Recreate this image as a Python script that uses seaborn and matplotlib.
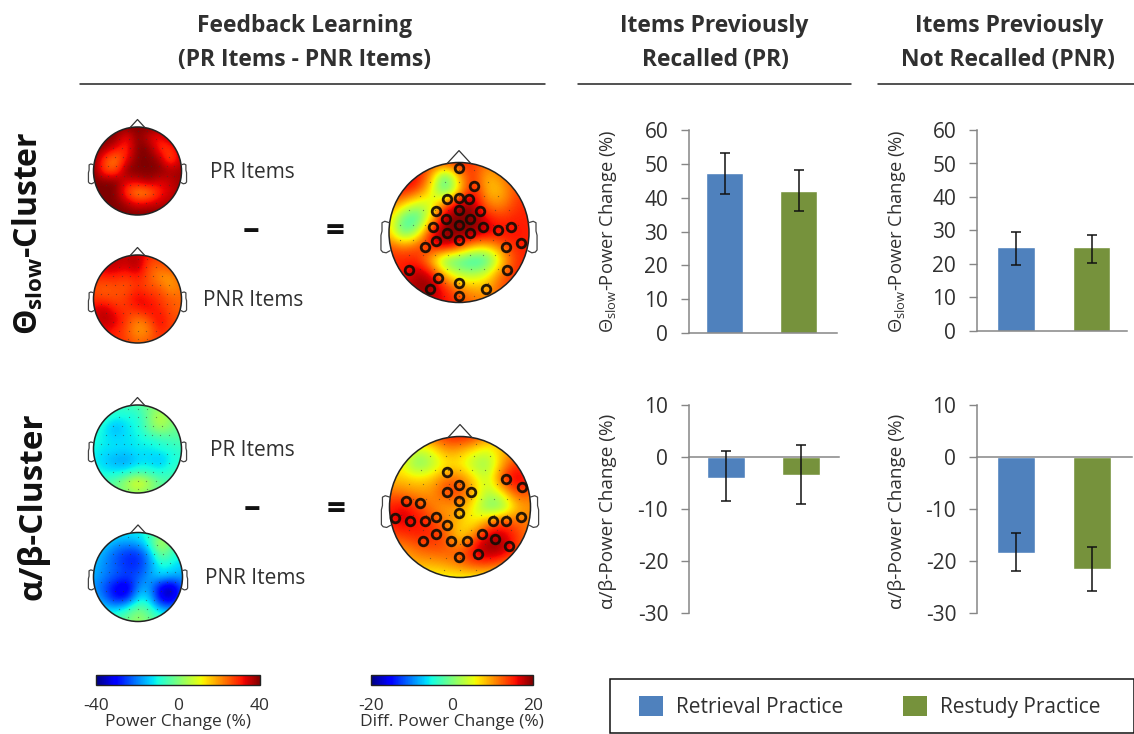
import matplotlib
matplotlib.use("Agg")
import matplotlib.pyplot as plt
import numpy as np
import pandas as pd
import seaborn as sns
from matplotlib.patches import Circle, Patch, Rectangle
from matplotlib.cm import ScalarMappable
from matplotlib.colors import Normalize

# ---------- bar data ----------
conditions = ["Retrieval Practice", "Restudy Practice"]
colors = ["#4F81BD", "#76923C"]
theta_pr = [47.3, 42.0]
theta_pr_low = [41.0, 36.0]
theta_pr_high = [53.2, 48.3]
theta_pnr = [25.0, 25.0]
theta_pnr_low = [19.6, 20.2]
theta_pnr_high = [29.6, 28.7]
alpha_pr = [-4.0, -3.4]
alpha_pr_low = [-8.5, -9.1]
alpha_pr_high = [1.2, 2.4]
alpha_pnr = [-18.4, -21.5]
alpha_pnr_low = [-22.0, -25.7]
alpha_pnr_high = [-14.6, -17.3]

# ---------- topographic map data (rows: front to back, columns: left to right) ----------
theta_pr_map = [
    [40, 40, 40, 40, 40, 40, 40, 40, 40],
    [40, 40, 40, 30, 40, 34, 30, 38, 40],
    [40, 38, 32, 28, 40, 40, 29, 27, 38],
    [40, 27, 20, 32, 40, 40, 38, 24, 36],
    [40, 26, 25, 40, 40, 40, 40, 37, 38],
    [40, 40, 40, 33, 34, 38, 33, 35, 38],
    [40, 40, 40, 27, 19, 20, 30, 34, 38],
    [40, 40, 40, 37, 32, 34, 35, 37, 40],
    [40, 40, 40, 40, 40, 40, 40, 40, 40],
]
theta_pnr_map = [
    [30, 33, 36, 35, 36, 30, 28, 28, 28],
    [32, 36, 36, 34, 38, 26, 25, 28, 30],
    [30, 30, 30, 28, 31, 26, 20, 19, 26],
    [26, 24, 26, 25, 29, 26, 26, 19, 23],
    [28, 27, 26, 28, 34, 31, 28, 25, 24],
    [33, 36, 30, 28, 30, 33, 30, 26, 24],
    [33, 37, 34, 28, 21, 25, 34, 27, 26],
    [30, 32, 30, 26, 19, 21, 30, 27, 28],
    [30, 30, 30, 28, 24, 26, 28, 28, 28],
]
alpha_pr_map = [
    [-2, -4, -6, -6, -5, -1, 0, -1, -2],
    [-6, -7, -10, -10, -9, -2, 8, 2, -2],
    [-8, -11, -17, -12, -10, -2, 5, 0, -3],
    [-9, -11, -13, -12, -11, -9, -7, -5, -4],
    [-10, -12, -12, -13, -11, -12, -10, -9, -7],
    [-11, -14, -17, -18, -14, -13, -16, -11, -8],
    [-9, -11, -12, -11, -7, -8, -10, -7, -6],
    [-6, -5, -2, 5, 13, 6, -2, -5, -6],
    [-4, -4, -2, -1, 2, -1, -3, -4, -4],
]
alpha_pnr_map = [
    [-8, -9, -11, -11, -11, -8, -2, -5, -8],
    [-11, -13, -17, -18, -16, -8, 9, -3, -9],
    [-13, -18, -23, -27, -27, -17, 0, -7, -11],
    [-15, -19, -23, -27, -27, -19, -9, -11, -14],
    [-16, -20, -23, -25, -23, -17, -13, -16, -17],
    [-18, -24, -32, -36, -18, -17, -34, -38, -22],
    [-15, -21, -30, -28, -11, -13, -33, -36, -19],
    [-10, -12, -12, -6, 1, -5, -14, -16, -12],
    [-5, -5, -4, -1, 4, -1, -4, -6, -7],
]
theta_diff_map = [
    [14, 14, 14, 14, 15, 16, 14, 12, 12, 14, 14],
    [16, 17, 17, 10, -4, 9, 15, 8, 11, 14, 14],
    [16, 16, 14, 6, -4, 6, 17, 8, 8, 13, 14],
    [12, 8, 3, 4, 12, 19, 19, 11, 10, 14, 15],
    [8, -2, -4, 6, 20, 20, 20, 16, 14, 15, 15],
    [8, -3, 2, 16, 20, 20, 20, 18, 16, 16, 15],
    [13, 11, 13, 16, 19, 15, 9, 8, 12, 15, 15],
    [15, 15, 15, 8, -2, -3, -5, -4, 6, 14, 15],
    [15, 15, 19, 17, 8, 3, 2, 5, 12, 15, 15],
    [15, 17, 19, 20, 15, 11, 9, 9, 13, 14, 14],
    [14, 15, 17, 17, 16, 14, 12, 11, 12, 14, 14],
]
alpha_diff_map = [
    [11, 11, 11, 13, 15, 16, 15, 11, 8, 8, 8],
    [9, 8, 3, 5, 10, 9, 6, 4, 9, 10, 10],
    [7, 5, -1, 2, 6, 6, 2, 1, 9, 15, 13],
    [8, 8, 7, 8, 12, 12, 7, 3, 15, 18, 15],
    [12, 11, 10, 10, 14, 14, 9, 2, 6, 14, 12],
    [15, 17, 14, 11, 9, 10, 5, -1, -1, 8, 10],
    [16, 17, 16, 14, 11, 8, 5, 10, 14, 12, 11],
    [13, 14, 15, 15, 13, 6, 11, 18, 18, 14, 11],
    [10, 10, 12, 13, 13, 12, 17, 20, 19, 14, 11],
    [7, 8, 9, 9, 10, 12, 14, 14, 12, 10, 8],
    [5, 5, 5, 5, 5, 5, 5, 5, 5, 5, 5],
]
# electrode sites in head units (radius = 100)
sensor_rows = {
    90: [-22, 0, 22],
    72: [-42, -20, 0, 20, 42],
    52: [-56, -36, -17, 0, 17, 36, 56],
    32: [-72, -52, -34, -16, 0, 16, 34, 52, 72],
    11: [-84, -66, -48, -30, -15, 0, 15, 30, 48, 66, 84],
    -11: [-84, -66, -48, -30, -15, 0, 15, 30, 48, 66, 84],
    -32: [-72, -52, -34, -16, 0, 16, 34, 52, 72],
    -52: [-56, -36, -17, 0, 17, 36, 56],
    -72: [-42, -20, 0, 20, 42],
    -90: [-22, 0, 22],
}
theta_sig = [(0, 92), (21, 66), (-17, 48), (0, 50), (14, 48), (-33, 31), (0, 32), (30, 31),
             (-19, 20), (16, 20), (-37, 8), (0, 11), (34, 8), (55, 4), (74, 8), (-17, -1),
             (16, -1), (-33, -12), (0, -10), (88, -15), (-49, -21), (67, -21), (-72, -53),
             (-30, -65), (0, -72), (69, -53), (-42, -81), (39, -81), (0, -90)]
alpha_sig = [(-18, 49), (65, 40), (88, 28), (-2, 31), (-18, 21), (15, 21), (-2, 9), (-76, 9),
             (-57, 5), (-2, -8), (-92, -16), (-71, -20), (-50, -20), (-34, -14), (-18, -25),
             (47, -20), (65, -20), (86, -14), (-34, -39), (-53, -48), (-13, -48), (10, -48),
             (31, -39), (49, -45), (70, -55), (26, -67), (-2, -71)]
ear_x = [0.995, 1.06, 1.10, 1.10, 1.115, 1.115, 1.09, 1.04, 0.985]
ear_y = [0.14, 0.16, 0.14, 0.02, -0.04, -0.25, -0.28, -0.29, -0.26]

sns.set_theme(style="white")
TXT = "#303030"
plt.rcParams["font.family"] = ["Open Sans", "DejaVu Sans"]
plt.rcParams["mathtext.fontset"] = "custom"
plt.rcParams["mathtext.rm"] = "Open Sans"
plt.rcParams["mathtext.bf"] = "Open Sans:bold"
plt.rcParams["axes.unicode_minus"] = False

W, H = 1134, 734
fig = plt.figure(figsize=(W / 100, H / 100), dpi=100, facecolor="white")


def px_axes(left, top, right, bottom, **kw):
    return fig.add_axes([left / W, 1 - bottom / H, (right - left) / W, (bottom - top) / H], **kw)


canvas = px_axes(0, 0, W, H)
canvas.set_xlim(0, W)
canvas.set_ylim(H, 0)
canvas.axis("off")


def topo(cx, cy, r, grid, vmax, sig=None):
    m = 1.3
    ax = px_axes(cx - m * r, cy - m * r, cx + m * r, cy + m * r)
    ax.axis("off")
    arr = np.array(grid, float)
    h = 2 / (arr.shape[0] - 1)
    im = ax.imshow(arr, cmap="jet", vmin=-vmax, vmax=vmax, interpolation="bicubic",
                   extent=(-1 - h / 2, 1 + h / 2, -1 - h / 2, 1 + h / 2), origin="upper", zorder=1)
    im.set_clip_path(Circle((0, 0), 1, transform=ax.transData))
    ax.set_xlim(-m, m)
    ax.set_ylim(-m, m)
    ax.add_patch(Circle((0, 0), 1, fill=False, ec="#222222", lw=1.1, zorder=3))
    ax.plot([-0.17, 0, 0.17], [0.985, 1.17, 0.985], color="#333333", lw=0.9, zorder=3)
    for s in (-1, 1):
        ax.plot(s * np.array(ear_x), ear_y, color="#444444", lw=0.9, zorder=3)
    xs = [x / 100 for y, row in sensor_rows.items() for x in row]
    ys = [y / 100 for y, row in sensor_rows.items() for x in row]
    ax.plot(xs, ys, ls="none", marker="o", ms=0.9, mec="none", mfc="#333333", alpha=0.55, zorder=2)
    if sig:
        ax.plot([p[0] / 100 for p in sig], [p[1] / 100 for p in sig], ls="none", marker="o",
                ms=6.2, mfc="none", mec="#140d05", mew=2.0, alpha=0.92, zorder=4)


topo(137.5, 171, 44, theta_pr_map, 40)
topo(137.5, 299, 44, theta_pnr_map, 40)
topo(459, 232.5, 70, theta_diff_map, 20, theta_sig)
topo(137.5, 449, 44, alpha_pr_map, 40)
topo(138, 577, 44.5, alpha_pnr_map, 40)
topo(460, 507, 70.5, alpha_diff_map, 20, alpha_sig)

# ---------- headers ----------
hdr = dict(ha="center", va="center", fontweight="bold", color=TXT, fontsize=16.5)
canvas.text(305, 26, "Feedback Learning", **hdr)
canvas.text(304, 60, "(PR Items - PNR Items)", **hdr)
canvas.text(714, 26, "Items Previously", **hdr)
canvas.text(715, 60, "Recalled (PR)", **hdr)
canvas.text(1009, 26, "Items Previously", **hdr)
canvas.text(1008, 60, "Not Recalled (PNR)", **hdr)
for x0, x1 in [(80, 545), (578, 851), (878, 1134)]:
    canvas.plot([x0, x1], [84, 84], color="#222222", lw=1.1)

# ---------- row labels ----------
canvas.text(28, 233, "Θ$_{\\mathbf{slow}}$-Cluster", rotation=90, ha="center", va="center",
            fontweight="bold", fontsize=23, color="#111111")
canvas.text(33, 506, "α/β-Cluster", rotation=90, ha="center", va="center",
            fontweight="bold", fontsize=24, color="#111111")

# ---------- map labels ----------
lab = dict(ha="center", va="center", color=TXT, fontsize=15)
canvas.text(252, 173, "PR Items", **lab)
canvas.text(253, 301, "PNR Items", **lab)
canvas.text(252, 451, "PR Items", **lab)
canvas.text(255, 579, "PNR Items", **lab)
op = dict(ha="center", va="center", color="#111111", fontweight="bold", fontsize=24)
canvas.text(251, 231, "–", **op)
canvas.text(335, 233, "=", **op)
canvas.text(252, 509, "–", **op)
canvas.text(336, 511, "=", **op)


# ---------- bar panels ----------
def bars(box, ylim, ticks, vals, low, high, ylabel, x_range, lab_x, lab_y, lab_size):
    ax = px_axes(*box)
    df = pd.DataFrame({"condition": conditions, "power": vals})
    sns.barplot(data=df, x="condition", y="power", hue="condition", palette=colors,
                hue_order=conditions, width=0.5, legend=False, saturation=1, ax=ax)
    err = [[v - l for v, l in zip(vals, low)], [h - v for v, h in zip(vals, high)]]
    ax.errorbar(range(2), vals, yerr=err, fmt="none", ecolor="#111111", elinewidth=1.1,
                capsize=3.4, capthick=1.1, zorder=5)
    ax.set_xlim(*x_range)
    ax.set_ylim(*ylim)
    ax.set_yticks(ticks)
    ax.set_xticks([])
    ax.set_xlabel("")
    ax.set_ylabel("")
    ax.patch.set_alpha(0)
    for s in ("top", "right"):
        ax.spines[s].set_visible(False)
    ax.spines["bottom"].set_position(("data", 0))
    for s in ("left", "bottom"):
        ax.spines[s].set_color("#868686")
        ax.spines[s].set_linewidth(1.1)
    ax.tick_params(axis="y", left=True, length=6, width=1, color="#868686",
                   labelsize=15, labelcolor=TXT, pad=9)
    canvas.text(lab_x, lab_y, ylabel, rotation=90, ha="center", va="center",
                fontsize=lab_size, color=TXT)
    return ax


t_label = "Θ$_{\\mathrm{slow}}$-Power Change (%)"
a_label = "α/β-Power Change (%)"
bars((689, 130, 837, 333), (0, 60), range(0, 61, 10), theta_pr, theta_pr_low, theta_pr_high,
     t_label, (-0.48, 1.52), 608, 231, 13.2)
bars((977, 130, 1127, 331), (0, 60), range(0, 61, 10), theta_pnr, theta_pnr_low, theta_pnr_high,
     t_label, (-0.52, 1.47), 897, 231, 13.2)
bars((689, 405, 839, 613), (-30, 10), range(-30, 11, 10), alpha_pr, alpha_pr_low, alpha_pr_high,
     a_label, (-0.49, 1.51), 608, 511, 13.6)
bars((977, 405, 1132, 613), (-30, 10), range(-30, 11, 10), alpha_pnr, alpha_pnr_low, alpha_pnr_high,
     a_label, (-0.51, 1.53), 897, 511, 13.6)


# ---------- colour bars ----------
def cbar(left, right, vmax, label):
    cax = px_axes(left, 675, right, 685)
    cb = fig.colorbar(ScalarMappable(Normalize(-vmax, vmax), "jet"), cax=cax,
                      orientation="horizontal", ticks=[-vmax, 0, vmax])
    cb.outline.set_edgecolor("#222222")
    cb.outline.set_linewidth(1.0)
    cax.tick_params(length=0, labelsize=12.5, labelcolor=TXT, pad=9)
    cb.set_label(label, fontsize=12.5, color=TXT, labelpad=0)


cbar(96, 260, 40, "Power Change (%)")
cbar(371, 533, 20, "Diff. Power Change (%)")

# ---------- legend ----------
canvas.add_patch(Rectangle((610, 678.5), 524, 54.5, fc="white", ec="#111111", lw=1.1, clip_on=False))
handles = [Patch(facecolor=c, edgecolor="none", label=n) for c, n in zip(colors, conditions)]
leg = fig.legend(handles=handles, loc="center left", ncol=2, mode="expand",
                 bbox_to_anchor=(639 / W, 1 - 734 / H, 461 / W, 54 / H),
                 fontsize=15, frameon=False, handlelength=1.15, handleheight=1.15,
                 handletextpad=0.62, borderpad=0, borderaxespad=0, labelcolor=TXT)

fig.savefig("out.png", dpi=100, facecolor="white")
